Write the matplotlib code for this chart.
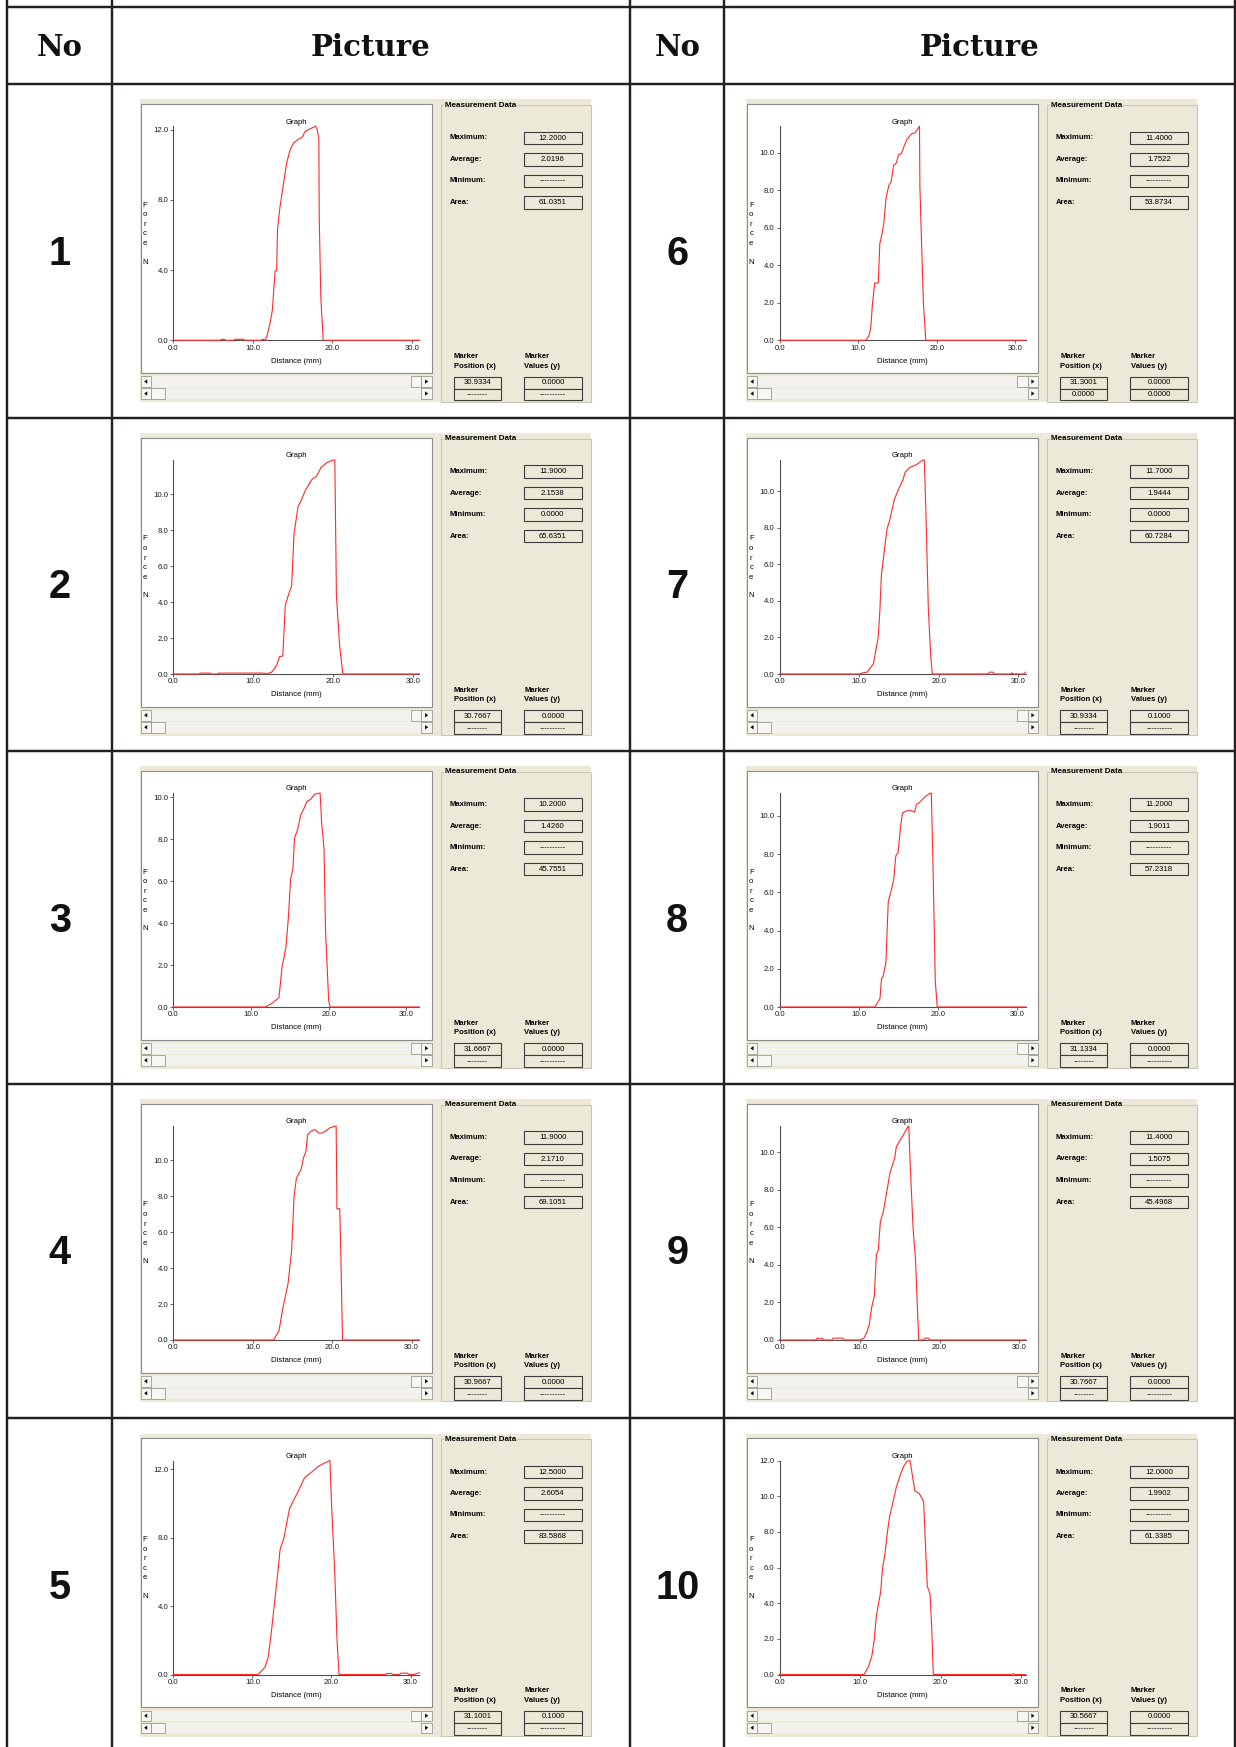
import numpy as np
import matplotlib
matplotlib.use("Agg")
import matplotlib.pyplot as plt
from matplotlib.patches import Rectangle, Polygon

# ---------------------------------------------------------------- data
# force (N) versus distance (mm) traces, one pair of lists per sample
X1 = [0.0, 5.9, 6.1, 6.4, 6.6, 7.6, 7.8, 8.8, 9.0, 11.0, 11.2, 11.4, 11.55, 11.75, 12.15, 12.45, 12.8, 13.0,
      13.1, 13.4, 13.85, 14.25, 14.65, 15.1, 15.7, 16.25, 16.55, 17.15, 17.9, 18.1, 18.3, 18.35, 18.55, 18.85, 30.9334]
Y1 = [0, 0, 0.06, 0.06, 0, 0, 0.06, 0.06, 0, 0, 0.05, 0.05, 0, 0.2, 0.95, 1.7, 3.95, 3.97,
      6.3, 7.55, 8.9, 10.1, 10.8, 11.25, 11.45, 11.6, 11.9, 12.05, 12.2, 12.0, 11.5, 7.0, 2.45, 0, 0]

X2 = [0.0, 3.2, 3.4, 4.6, 4.8, 5.5, 5.7, 11.4, 11.6, 12.3, 12.9, 13.3, 13.7, 14.0, 14.4, 14.8, 15.1, 15.6,
      16.0, 16.5, 17.3, 17.9, 18.5, 19.2, 20.0, 20.2, 20.4, 20.8, 21.2, 30.7667]
Y2 = [0, 0, 0.05, 0.05, 0, 0, 0.05, 0.05, 0, 0.1, 0.46, 0.97, 1.0, 3.8, 4.4, 4.9, 7.8, 9.3,
      9.65, 10.2, 10.8, 11.0, 11.5, 11.75, 11.9, 11.9, 4.4, 1.6, 0, 0]

X3 = [0.0, 11.8, 12.1, 12.8, 13.6, 14.0, 14.5, 14.8, 15.1, 15.4, 15.6, 16.0, 16.4, 16.8, 17.2, 17.7, 18.2,
      18.9, 19.1, 19.4, 19.6, 20.0, 20.2, 31.6667]
Y3 = [0, 0, 0.05, 0.2, 0.45, 1.9, 2.85, 4.2, 6.1, 6.6, 8.05, 8.45, 9.15, 9.45, 9.8, 9.9, 10.15,
      10.2, 8.75, 7.55, 3.6, 0.3, 0, 0]

X4 = [0.0, 12.6, 13.3, 13.8, 14.45, 14.9, 15.2, 15.5, 16.1, 16.4, 16.7, 16.9, 17.3, 17.8, 18.35, 18.7,
      19.3, 19.7, 20.5, 20.6, 20.95, 21.1, 21.3, 30.9667]
Y4 = [0, 0, 0.5, 1.8, 3.15, 5.0, 8.0, 9.0, 9.5, 10.15, 10.5, 11.4, 11.6, 11.7, 11.5, 11.5,
      11.65, 11.8, 11.9, 7.3, 7.3, 4.5, 0, 0]

X5 = [0.0, 10.7, 11.6, 12.0, 12.4, 12.8, 13.25, 13.5, 14.0, 14.3, 14.7, 15.35, 16.0, 16.6, 17.0, 17.7,
      18.3, 18.9, 19.8, 20.0, 20.4, 20.7, 20.95, 26.8, 27.0, 27.6, 27.8, 28.6, 28.8, 29.6, 29.8, 30.4, 31.1001]
Y5 = [0, 0, 0.43, 1.0, 2.5, 4.2, 6.1, 7.3, 8.0, 8.75, 9.7, 10.3, 10.9, 11.5, 11.65, 11.9,
      12.15, 12.3, 12.5, 10.0, 6.1, 2.0, 0, 0, 0.06, 0.06, 0, 0, 0.08, 0.08, 0, 0, 0.1]

X6 = [0.0, 10.96, 11.4, 11.6, 11.8, 12.1, 12.55, 12.75, 13.05, 13.25, 13.55, 13.9, 14.2, 14.5, 14.85,
      15.15, 15.5, 15.8, 16.2, 16.8, 17.25, 17.8, 17.85, 18.0, 18.3, 18.6, 31.3001]
Y6 = [0, 0, 0.27, 0.67, 1.87, 3.05, 3.05, 5.15, 5.7, 6.2, 7.6, 8.25, 8.45, 9.3, 9.45,
      9.9, 9.95, 10.3, 10.7, 11.0, 11.05, 11.4, 8.2, 6.05, 1.95, 0, 0]

X7 = [0.0, 10.1, 10.5, 11.0, 11.8, 12.4, 12.6, 12.8, 13.1, 13.5, 13.9, 14.4, 14.9, 15.5, 15.8, 16.4,
      17.0, 17.4, 18.0, 18.2, 18.4, 18.7, 19.0, 19.2, 26.2, 26.4, 26.8, 27.0, 29.0, 29.2, 29.4, 30.7, 30.9334]
Y7 = [0, 0, 0.07, 0.1, 0.56, 2.0, 3.4, 5.4, 6.5, 7.9, 8.5, 9.5, 10.05, 10.6, 11.05, 11.3,
      11.4, 11.5, 11.7, 11.7, 8.8, 3.6, 1.0, 0, 0, 0.1, 0.1, 0, 0, 0.06, 0, 0, 0.1]

X8 = [0.0, 12.05, 12.7, 12.9, 13.1, 13.45, 13.75, 14.1, 14.45, 14.7, 15.0, 15.3, 15.55, 15.95, 16.4,
      16.8, 17.1, 17.3, 17.7, 18.4, 18.9, 19.2, 19.4, 19.7, 19.95, 31.1334]
Y8 = [0, 0, 0.43, 1.5, 1.6, 2.3, 5.5, 6.05, 6.7, 7.9, 8.1, 9.4, 10.15, 10.25, 10.3,
      10.25, 10.2, 10.6, 10.7, 11.0, 11.15, 11.2, 7.7, 1.4, 0, 0]

X9 = [0.0, 4.5, 4.7, 5.0, 5.3, 5.5, 6.5, 6.7, 7.9, 8.1, 10.05, 10.55, 10.9, 11.2, 11.5, 11.85, 12.1,
      12.35, 12.6, 12.95, 13.45, 13.8, 14.1, 14.4, 14.6, 15.0, 15.45, 15.95, 16.15, 16.4, 16.7, 17.0,
      17.2, 17.4, 18.0, 18.2, 18.6, 18.8, 30.7667]
Y9 = [0, 0, 0.1, 0.05, 0.1, 0, 0, 0.1, 0.1, 0, 0, 0.1, 0.4, 0.8, 1.7, 2.35, 4.55,
      4.8, 6.3, 6.8, 8.0, 8.9, 9.3, 9.7, 10.3, 10.6, 10.9, 11.3, 11.4, 8.7, 5.9, 4.3,
      2.1, 0, 0, 0.1, 0.1, 0, 0]

X10 = [0.0, 10.5, 11.0, 11.45, 11.75, 12.0, 12.3, 12.55, 12.8, 13.1, 13.4, 13.65, 14.05, 14.5, 15.0,
       15.4, 15.8, 16.2, 16.4, 16.8, 17.35, 17.9, 18.1, 18.35, 18.7, 18.9, 19.1, 28.8, 29.0, 29.3, 30.5667]
Y10 = [0, 0, 0.4, 1.0, 1.9, 3.2, 4.0, 4.6, 6.0, 6.8, 8.0, 8.8, 9.6, 10.5, 11.2,
       11.65, 11.95, 12.0, 11.45, 10.3, 10.15, 9.7, 7.5, 4.95, 4.5, 2.6, 0, 0, 0.05, 0, 0]

SAMPLE_NO = ["1", "2", "3", "4", "5", "6", "7", "8", "9", "10"]
Y_TICK_STEP = [4, 2, 2, 2, 4, 2, 2, 2, 2, 2]
AVERAGE = ["2.0196", "2.1538", "1.4260", "2.1710", "2.6054", "1.7522", "1.9444", "1.9011", "1.5075", "1.9902"]
MINIMUM = ["----------", "0.0000", "----------", "----------", "----------",
           "----------", "0.0000", "----------", "----------", "----------"]
AREA = ["61.0351", "65.6351", "45.7551", "69.1051", "83.5868", "53.8734", "60.7284", "57.2318", "45.4968", "61.3385"]
MARKER_POS_2 = ["--------", "--------", "--------", "--------", "--------",
                "0.0000", "--------", "--------", "--------", "--------"]
MARKER_VAL_2 = ["----------", "----------", "----------", "----------", "----------",
                "0.0000", "----------", "----------", "----------", "----------"]

CURVES_X = [X1, X2, X3, X4, X5, X6, X7, X8, X9, X10]
CURVES_Y = [Y1, Y2, Y3, Y4, Y5, Y6, Y7, Y8, Y9, Y10]

# ---------------------------------------------------------------- figure
W, H = 1236, 1747
UI = ["Liberation Sans", "DejaVu Sans"]
plt.rcParams["font.family"] = UI

fig = plt.figure(figsize=(W / 100, H / 100), dpi=100)
fig.patch.set_facecolor("white")
ov = fig.add_axes([0, 0, 1, 1], zorder=0)
ov.set_xlim(0, W)
ov.set_ylim(H, 0)
ov.axis("off")

LINE = "#231f20"
BEIGE = "#ece9d8"
RED = "#ff2a2a"
AXC = "#505050"

# table grid
H_LINES = [6.7, 83.8, 417.5, 750.5, 1083.5, 1418.0]
V_LINES = [7.3, 112.0, 630.0, 724.4, 1234.5]
for y in H_LINES:
    ov.plot([V_LINES[0] - 1, V_LINES[-1] + 1], [y, y], color=LINE, lw=1.75, solid_capstyle="butt", zorder=5)
for x in V_LINES:
    ov.plot([x, x], [0, H], color=LINE, lw=1.75, solid_capstyle="butt", zorder=5)

# header
for cx, label in [((V_LINES[0] + V_LINES[1]) / 2, "No"), ((V_LINES[1] + V_LINES[2]) / 2, "Picture"),
                  ((V_LINES[2] + V_LINES[3]) / 2, "No"), ((V_LINES[3] + V_LINES[4]) / 2, "Picture")]:
    ov.text(cx, 55.5, label, family="DejaVu Serif", weight="bold", fontsize=21,
            ha="center", va="baseline", color="#111111")


def rect(x, y, w, h, fc, ec="none", lw=0.0, z=1):
    ov.add_patch(Rectangle((x, y), w, h, facecolor=fc, edgecolor=ec, linewidth=lw, zorder=z))


def arrow(cx, cy, direction, z=3):
    s = 2.2
    if direction == "left":
        pts = [(cx - s * 0.8, cy), (cx + s * 0.6, cy - s), (cx + s * 0.6, cy + s)]
    else:
        pts = [(cx + s * 0.8, cy), (cx - s * 0.6, cy - s), (cx - s * 0.6, cy + s)]
    ov.add_patch(Polygon(pts, closed=True, facecolor="black", edgecolor="none", zorder=z))


def scrollbar(ox, y0, thumb_x, thumb_w):
    h = 10.5
    rect(ox + 0.7, y0, 291, h, "#f3f2ec", z=2)
    for bx in (ox + 0.7, ox + 281.2):
        rect(bx, y0, 10.3, h, "#f7f6f2", ec="#9a9a94", lw=0.6, z=3)
    arrow(ox + 5.9, y0 + h / 2, "left", z=4)
    arrow(ox + 286.4, y0 + h / 2, "right", z=4)
    rect(thumb_x, y0, thumb_w, h, "#f7f6f2", ec="#9a9a94", lw=0.6, z=3)


def panel(k, ox, oy):
    xs = CURVES_X[k]
    ys = CURVES_Y[k]
    x_end = xs[-1]
    y_max = max(ys)

    # window background and plot frame
    rect(ox, oy, 451, 303, BEIGE, z=1)
    rect(ox + 0.7, oy + 4.7, 291, 269, "white", ec="#8c8c8c", lw=0.8, z=2)

    scrollbar(ox, oy + 277, ox + 270.9, 10.3)
    scrollbar(ox, oy + 289, ox + 11.0, 13.5)

    # measurement group box
    ov.add_patch(Rectangle((ox + 300.5, oy + 5.7), 150.0, 296.5, facecolor="none",
                           edgecolor="#c9c7b8", linewidth=0.8, zorder=2))
    ov.text(ox + 305, oy + 5.7, "Measurement Data", fontsize=5.8, weight="bold", ha="left",
            va="center", zorder=4,
            bbox=dict(facecolor=BEIGE, edgecolor="none", pad=0.6))

    rows = [("Maximum:", f"{y_max:.4f}"), ("Average:", AVERAGE[k]),
            ("Minimum:", MINIMUM[k]), ("Area:", AREA[k])]
    for i, (lab, val) in enumerate(rows):
        yy = oy + [38.6, 60.0, 81.4, 103.0][i]
        ov.text(ox + 309.5, yy, lab, fontsize=5.5, weight="bold", ha="left", va="center", zorder=4)
        rect(ox + 383.5, yy - 6.2, 58.5, 12.4, BEIGE, ec="#3c3c3c", lw=0.8, z=3)
        ov.text(ox + 412.7, yy + 0.3, val, fontsize=5.6, ha="center", va="center", zorder=4)

    for hx, l1, l2 in [(314.0, "Marker", "Position (x)"), (384.5, "Marker", "Values (y)")]:
        ov.text(ox + hx, oy + 257.3, l1, fontsize=5.5, weight="bold", ha="left", va="center", zorder=4)
        ov.text(ox + hx, oy + 266.8, l2, fontsize=5.5, weight="bold", ha="left", va="center", zorder=4)

    marker_cells = [(314.0, 47.0, f"{x_end:.4f}", MARKER_POS_2[k]),
                    (384.0, 58.0, f"{ys[-1]:.4f}", MARKER_VAL_2[k])]
    for bx, bw, v1, v2 in marker_cells:
        for j, v in enumerate((v1, v2)):
            by = oy + 277.3 + j * 11.9
            rect(ox + bx, by, bw, 11.9, BEIGE, ec="#3c3c3c", lw=0.8, z=3)
            ov.text(ox + bx + bw / 2, by + 6.2, v, fontsize=5.6, ha="center", va="center", zorder=4)

    # axis captions
    ov.text(ox + 156.3, oy + 22.7, "Graph", fontsize=5.6, ha="center", va="center", zorder=4)
    ov.text(ox + 156.3, oy + 261.7, "Distance (mm)", fontsize=5.6, ha="center", va="center", zorder=4)
    for ch, fy in zip("ForceN", [106.0, 115.6, 125.0, 134.6, 144.2, 162.7]):
        ov.text(ox + 5.0, oy + fy, ch, fontsize=5.6, ha="center", va="center", zorder=4)

    # data axes
    L, R, T, B = ox + 33.3, ox + 279.3, oy + 27.0, oy + 241.0
    ax = fig.add_axes([L / W, 1 - B / H, (R - L) / W, (B - T) / H], zorder=3)
    ax.set_facecolor("none")
    ax.plot(xs, ys, color=RED, lw=0.8, zorder=3, clip_on=False)
    ax.set_xlim(0, x_end)
    ax.set_ylim(0, y_max)
    for side in ("top", "right"):
        ax.spines[side].set_visible(False)
    for side in ("left", "bottom"):
        ax.spines[side].set_color(AXC)
        ax.spines[side].set_linewidth(0.8)
        ax.spines[side].set_zorder(2)
    ax.set_xticks([0, 10, 20, 30])
    ax.set_yticks(np.arange(0, y_max + 1e-9, Y_TICK_STEP[k]))
    ax.xaxis.set_major_formatter(matplotlib.ticker.FormatStrFormatter("%.1f"))
    ax.yaxis.set_major_formatter(matplotlib.ticker.FormatStrFormatter("%.1f"))
    ax.tick_params(axis="both", direction="out", length=2.4, width=0.6, color=AXC,
                   labelsize=5.6, labelcolor="#1a1a1a")
    ax.tick_params(axis="x", pad=0.8)
    ax.tick_params(axis="y", pad=1.2)
    return ax


COL_OX = [140.0, 746.3]
NO_CX = [(V_LINES[0] + V_LINES[1]) / 2, (V_LINES[2] + V_LINES[3]) / 2]
row_tops = H_LINES[1:]
for k in range(10):
    col = k // 5
    r = k % 5
    top = row_tops[r]
    panel(k, COL_OX[col], top + 15.5)
    center = top + 166.8
    ov.text(NO_CX[col], center + 14.2, SAMPLE_NO[k], fontsize=28.5, weight="bold",
            ha="center", va="baseline", color="#111111")

fig.savefig("out.png", dpi=100, facecolor="white")
